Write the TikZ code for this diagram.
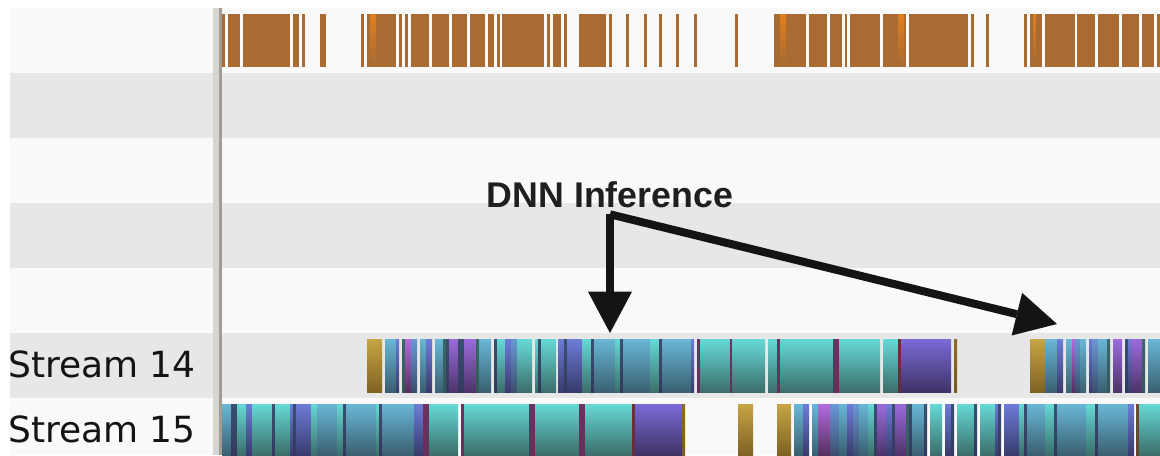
\documentclass[tikz,border=0pt]{standalone}
\usepackage{fontspec}
\setmainfont{DejaVu Sans}
\newfontfamily\calloutfont{Liberation Sans}
\usepackage{xcolor}
\usepackage{tikz}
\usetikzlibrary{arrows.meta,positioning}
\definecolor{rowlight}{HTML}{F9F9F9}
\definecolor{rowdark}{HTML}{E7E7E7}
\definecolor{splitlight}{HTML}{D6D5D0}
\definecolor{splitdark}{HTML}{A19D95}
\definecolor{kernel}{HTML}{A86B32}
\definecolor{kernelhi}{HTML}{E27E1E}

\begin{document}
\begin{tikzpicture}[x=0.75pt, y=-0.75pt,
  lane/.style={font=\fontsize{27}{30}\selectfont, text=black!92,
    anchor=base west, inner sep=0pt},
  callout/.style={font={\calloutfont\bfseries\fontsize{26.8}{30}\selectfont},
    text=black!88, anchor=base, inner sep=5pt},
  pointer/.style={line width=6pt, draw=black!92,
    -{Triangle[length=31pt, width=33pt, line width=0pt]}},
  segteal/.style={top color={rgb,255:red,102;green,217;blue,214}, bottom color={rgb,255:red,59;green,110;blue,107}},
  segblue/.style={top color={rgb,255:red,105;green,183;blue,214}, bottom color={rgb,255:red,58;green,95;blue,112}},
  segpblue/.style={top color={rgb,255:red,108;green,124;blue,216}, bottom color={rgb,255:red,56;green,59;blue,108}},
  seglblue/.style={top color={rgb,255:red,106;green,152;blue,214}, bottom color={rgb,255:red,59;green,78;blue,110}},
  segpurp/.style={top color={rgb,255:red,122;green,107;blue,215}, bottom color={rgb,255:red,63;green,50;blue,102}},
  segmpurp/.style={top color={rgb,255:red,155;green,107;blue,220}, bottom color={rgb,255:red,76;green,52;blue,104}},
  segmag/.style={top color={rgb,255:red,179;green,107;blue,222}, bottom color={rgb,255:red,85;green,48;blue,95}},
  seggold/.style={top color={rgb,255:red,198;green,165;blue,68}, bottom color={rgb,255:red,127;green,98;blue,35}},
  segnavy/.style={top color={rgb,255:red,58;green,80;blue,112}, bottom color={rgb,255:red,51;green,57;blue,94}},
  segdteal/.style={top color={rgb,255:red,58;green,106;blue,104}, bottom color={rgb,255:red,52;green,88;blue,90}},
  segmaroon/.style={top color={rgb,255:red,107;green,51;blue,96}, bottom color={rgb,255:red,100;green,48;blue,90}},
  segrust/.style={top color={rgb,255:red,110;green,50;blue,50}, bottom color={rgb,255:red,100;green,45;blue,60}},
  segochre/.style={top color={rgb,255:red,140;green,108;blue,36}, bottom color={rgb,255:red,120;green,92;blue,30}},
  segbrown/.style={top color={rgb,255:red,110;green,76;blue,50}, bottom color={rgb,255:red,100;green,68;blue,45}}
]
\useasboundingbox (0,0) rectangle (1160,455);
\fill[white] (0,0) rectangle (1160,455);
% timeline rows
\foreach \top/\bot/\shade in {8/73/rowlight, 73/138/rowdark, 138/203/rowlight,
    203/268/rowdark, 268/333/rowlight, 333/398/rowdark, 398/455/rowlight}
  \fill[\shade] (10,\top) rectangle (1160,\bot);
% splitter between labels and timeline
\fill[splitlight] (213,8) rectangle (219,455);
\fill[splitdark] (219,8) rectangle (222,455);
% kernel row
\foreach \a/\b in {222/225, 228/240, 243/290, 293/299, 302/305, 320/326, 361/364,
    367/396, 399/402, 405/408, 411/429, 432/449, 452/467, 470/485, 488/494, 497/500,
    502/544, 547/550, 553/561, 564/567, 579/606, 609/612, 626/629, 644/647, 659/662,
    676/679, 694/697, 735/738, 774/806, 809/827, 830/842, 845/847, 850/880, 883/906,
    909/968, 971/974, 986/989, 1024/1027, 1030/1042, 1045/1075, 1077/1095, 1098/1119,
    1122/1139, 1142/1154, 1157/1160}
  \fill[kernel] (\a,14) rectangle (\b,67);
\foreach \a/\b in {370/376, 780/786, 898/904, 1033/1036}
  \shade[top color=kernelhi, bottom color=kernel] (\a,14) rectangle (\b,65);
% stream 14
\foreach \a/\b/\s in {367/382/seggold, 385/396/segblue, 396/399/segpblue,
    402/405/segdteal, 405/411/segmag, 411/417/seglblue, 420/426/segblue, 426/432/segpblue,
    435/443/segblue, 443/446/segdteal, 446/449/segnavy, 449/458/segmpurp, 458/464/segnavy,
    464/476/segmpurp, 476/479/segdteal, 479/491/segblue, 494/497/segnavy, 497/505/segteal,
    505/511/segpblue, 511/517/seglblue, 517/532/segteal, 535/538/segteal, 538/541/segnavy,
    541/556/segteal, 558/564/segpblue, 564/567/segnavy, 567/582/segpblue, 582/591/segteal,
    591/594/segnavy, 594/615/segblue, 615/620/segteal, 620/623/segnavy, 623/650/segblue,
    650/659/segteal, 659/662/segnavy, 662/691/segblue, 691/694/segpblue, 697/700/segmaroon,
    700/730/segteal, 730/732/segmaroon, 732/765/segteal, 768/777/segteal, 777/780/segmaroon,
    780/833/segteal, 833/839/segmaroon, 839/880/segteal, 883/898/segteal, 898/901/segrust,
    901/951/segpurp, 954/957/segochre, 1030/1045/seggold, 1045/1057/segblue,
    1057/1063/segpblue, 1066/1072/segblue, 1072/1075/segmag, 1075/1080/seglblue,
    1080/1086/segblue, 1089/1092/segpblue, 1092/1098/seglblue, 1098/1107/segblue,
    1107/1110/segdteal, 1113/1122/segmpurp, 1125/1128/segnavy, 1128/1131/segpblue,
    1131/1142/segmpurp, 1142/1145/segdteal, 1148/1160/segblue}
  \shade[\s] (\a,339) rectangle (\b,392);
% stream 15
\foreach \a/\b/\s in {222/231/segblue, 231/237/segnavy, 237/246/segteal,
    246/252/segpblue, 252/272/segteal, 272/275/segnavy, 275/290/segteal, 290/293/segpblue,
    293/296/segnavy, 296/311/segpblue, 311/317/segteal, 317/337/segblue, 337/343/segteal,
    343/346/segnavy, 346/376/segblue, 376/379/segteal, 379/382/segnavy, 382/414/segblue,
    414/423/segpblue, 423/429/segmaroon, 429/458/segteal, 461/464/segmaroon,
    464/529/segteal, 529/535/segmaroon, 535/579/segteal, 579/585/segmaroon,
    585/632/segteal, 632/635/segrust, 635/682/segpurp, 682/685/segochre, 738/753/seggold,
    777/791/seggold, 794/803/segblue, 803/809/segpblue, 812/818/segblue, 818/830/segmag,
    830/839/seglblue, 839/847/segblue, 847/853/segpblue, 853/859/seglblue, 859/868/segblue,
    868/874/segteal, 874/877/segnavy, 877/886/segmpurp, 886/892/segpblue, 892/895/segnavy,
    895/906/segmpurp, 906/909/segdteal, 909/912/segnavy, 912/924/segblue, 924/927/segnavy,
    930/942/segteal, 945/951/segpblue, 951/954/segnavy, 957/974/segteal, 974/977/segnavy,
    980/995/segteal, 995/998/segpblue, 998/1001/segnavy, 1004/1019/segpblue,
    1019/1024/segteal, 1024/1027/segnavy, 1027/1045/segblue, 1045/1054/segteal,
    1054/1057/segnavy, 1057/1086/segblue, 1086/1095/segteal, 1095/1098/segnavy,
    1098/1128/segblue, 1128/1134/segpblue, 1136/1139/segbrown, 1139/1160/segteal}
  \shade[\s] (\a,404) rectangle (\b,455);
% lane labels
\node[lane] (s14) at (8,377) {Stream 14};
\node[lane] (s15) at (8,442) {Stream 15};
% callout
\node[callout] (dnn) at (610,207) {DNN Inference};
\coordinate (hitA) at (610,333);
\coordinate (hitB) at (1057,324);
\draw[pointer] (dnn.south -| hitA) -- (hitA);
\draw[pointer] (dnn.south -| hitA) -- (hitB);
\end{tikzpicture}
\end{document}
